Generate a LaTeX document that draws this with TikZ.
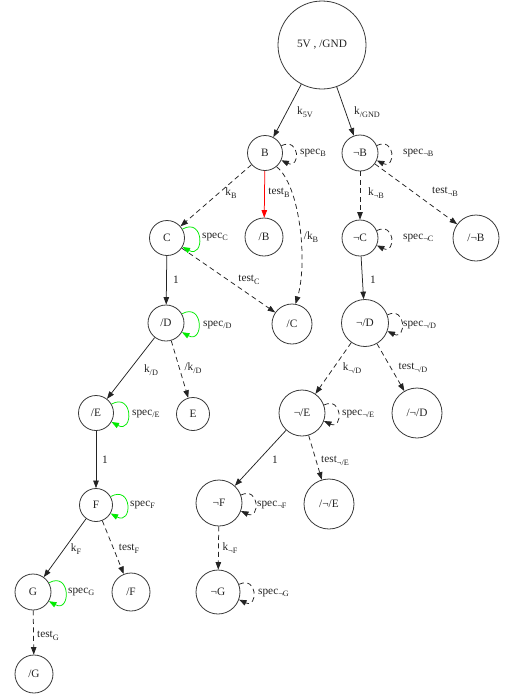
\documentclass[tikz,border=0pt]{standalone}
\usepackage{fontspec}
\setmainfont{Liberation Serif}
\usetikzlibrary{arrows.meta}
% lowered, smaller subscript as set by the label renderer
\newcommand\lsb[1]{\raisebox{-0.5ex}{\fontsize{8.2}{9}\selectfont #1}}
\definecolor{loopgreen}{RGB}{0,235,0}
\definecolor{edgered}{RGB}{255,0,0}
\definecolor{ink}{RGB}{35,35,35}
\begin{document}
\begin{tikzpicture}[x=1pt,y=1pt,
  every node/.style={font=\fontsize{11.3}{13}\selectfont, text=ink},
  state/.style={circle, draw=ink!90, line width=0.8pt, inner sep=0pt},
  lbl/.style={inner sep=0pt},
  arr/.style={-{Triangle[length=7.5pt,width=5.5pt]}, line width=0.75pt, draw=ink},
  dsh/.style={arr, dash pattern=on 5pt off 3.5pt},
  redarr/.style={arr, draw=edgered},
  greenloop/.style={arr, draw=loopgreen},
  dshloop/.style={dsh}
]
\useasboundingbox (0,0) rectangle (504,-697);

% states
\node[state, minimum size=88pt] (top) at (322,-45) {5V , /GND};
\node[state, minimum size=35pt] (B) at (265,-153) {B};
\node[state, minimum size=36pt] (nB) at (360,-153) {¬B};
\node[state, minimum size=35pt] (C) at (167,-238) {C};
\node[state, minimum size=38pt] (sB) at (264,-237) {/B};
\node[state, minimum size=36pt] (nC) at (360,-238) {¬C};
\node[state, minimum size=46pt] (snB) at (476,-238) {/¬B};
\node[state, minimum size=36pt] (sD) at (166,-323) {/D};
\node[state, minimum size=40pt] (sC) at (292,-324) {/C};
\node[state, minimum size=47pt] (nsD) at (365,-323) {¬/D};
\node[state, minimum size=33pt] (E) at (193,-414) {E};
\node[state, minimum size=35pt] (sE) at (96,-413) {/E};
\node[state, minimum size=46pt] (nsE) at (302,-413) {¬/E};
\node[state, minimum size=50pt] (snsD) at (417,-413) {/¬/D};
\node[state, minimum size=33pt] (F) at (96,-505) {F};
\node[state, minimum size=46pt] (nF) at (219,-503) {¬F};
\node[state, minimum size=50pt] (snsE) at (329,-504) {/¬/E};
\node[state, minimum size=36pt] (G) at (33,-592) {G};
\node[state, minimum size=38pt] (sF) at (131,-592) {/F};
\node[state, minimum size=44pt] (nG) at (218,-592) {¬G};
\node[state, minimum size=38pt] (sG) at (34,-674) {/G};

% transitions
\draw[arr] (top) -- (B);
\draw[arr] (top) -- (nB);
\draw[dsh] (B) -- (C);
\draw[redarr] (B) -- (sB);
\draw[dsh] (B.-50) .. controls (300,-185) and (308,-262) .. (sC.80);
\draw[dsh] (nB) -- (nC);
\draw[dsh] (nB) -- (snB);
\draw[arr] (C) -- (sD);
\draw[dsh] (C) -- (sC);
\draw[arr] (nC) -- (nsD);
\draw[arr] (sD) -- (sE);
\draw[dsh] (sD) -- (E);
\draw[dsh] (nsD) -- (nsE);
\draw[dsh] (nsD) -- (snsD);
\draw[arr] (sE) -- (F);
\draw[arr] (nsE) -- (nF);
\draw[dsh] (nsE) -- (snsE);
\draw[arr] (F) -- (G);
\draw[dsh] (F) -- (sF);
\draw[dsh] (nF) -- (nG);
\draw[dsh] (G) -- (sG);

% self loops
\draw[dshloop] (B.24) .. controls +(19,9) and +(19,-9) .. (B.-24);
\draw[dshloop] (nB.24) .. controls +(19,9) and +(19,-9) .. (nB.-24);
\draw[dshloop] (nC.24) .. controls +(19,9) and +(19,-9) .. (nC.-24);
\draw[dshloop] (nsD.20) .. controls +(19,9) and +(19,-9) .. (nsD.-20);
\draw[dshloop] (nsE.20) .. controls +(19,9) and +(19,-9) .. (nsE.-20);
\draw[dshloop] (nF.20) .. controls +(19,9) and +(19,-9) .. (nF.-20);
\draw[dshloop] (nG.20) .. controls +(19,9) and +(19,-9) .. (nG.-20);
\draw[greenloop] (C.30) .. controls +(22,12) and +(22,-12) .. (C.-30);
\draw[greenloop] (sD.30) .. controls +(22,12) and +(22,-12) .. (sD.-30);
\draw[greenloop] (sE.30) .. controls +(22,12) and +(22,-12) .. (sE.-30);
\draw[greenloop] (F.30) .. controls +(22,12) and +(22,-12) .. (F.-30);
\draw[greenloop] (G.30) .. controls +(22,12) and +(22,-12) .. (G.-30);

% transition labels
\node[lbl] (l1) at (305,-112) {k\lsb{5V}};
\node[lbl] (l2) at (367,-112) {k\lsb{/GND}};
\node[lbl, anchor=west] (l3) at (300,-153) {spec\lsb{B}};
\node[lbl] (l4) at (279,-193) {test\lsb{B}};
\node[lbl] (l5) at (231,-193) {k\lsb{B}};
\node[lbl] (l6) at (311,-237) {/k\lsb{B}};
\node[lbl, anchor=west] (l7) at (403,-153) {spec\lsb{¬B}};
\node[lbl] (l8) at (376,-193) {k\lsb{¬B}};
\node[lbl] (l9) at (445,-192) {test\lsb{¬B}};
\node[lbl, anchor=west] (l10) at (403,-238) {spec\lsb{¬C}};
\node[lbl, anchor=west] (l11) at (202,-237) {spec\lsb{C}};
\node[lbl] (l12) at (176,-280) {1};
\node[lbl] (l13) at (249,-280) {test\lsb{C}};
\node[lbl, anchor=west] (l14) at (203,-325) {spec\lsb{/D}};
\node[lbl] (l15) at (151,-370) {k\lsb{/D}};
\node[lbl] (l16) at (193,-368) {/k\lsb{/D}};
\node[lbl, anchor=west] (l17) at (132,-414) {spec\lsb{/E}};
\node[lbl] (l18) at (105,-460) {1};
\node[lbl, anchor=west] (l19) at (130,-505) {spec\lsb{F}};
\node[lbl] (l20) at (373,-280) {1};
\node[lbl, anchor=west] (l21) at (403,-325) {spec\lsb{¬/D}};
\node[lbl] (l22) at (352,-368) {k\lsb{¬/D}};
\node[lbl] (l23) at (413,-368) {test\lsb{¬/D}};
\node[lbl, anchor=west] (l24) at (342,-414) {spec\lsb{¬/E}};
\node[lbl] (l25) at (275,-460) {1};
\node[lbl] (l26) at (335,-461) {test\lsb{¬/E}};
\node[lbl, anchor=west] (l27) at (257,-505) {spec\lsb{¬F}};
\node[lbl] (l28) at (230,-548) {k\lsb{¬F}};
\node[lbl, anchor=west] (l29) at (258,-593) {spec\lsb{¬G}};
\node[lbl] (l30) at (76,-549) {k\lsb{F}};
\node[lbl] (l31) at (129,-549) {test\lsb{F}};
\node[lbl, anchor=west] (l32) at (68,-592) {spec\lsb{G}};
\node[lbl] (l33) at (48,-636) {test\lsb{G}};
\end{tikzpicture}
\end{document}
